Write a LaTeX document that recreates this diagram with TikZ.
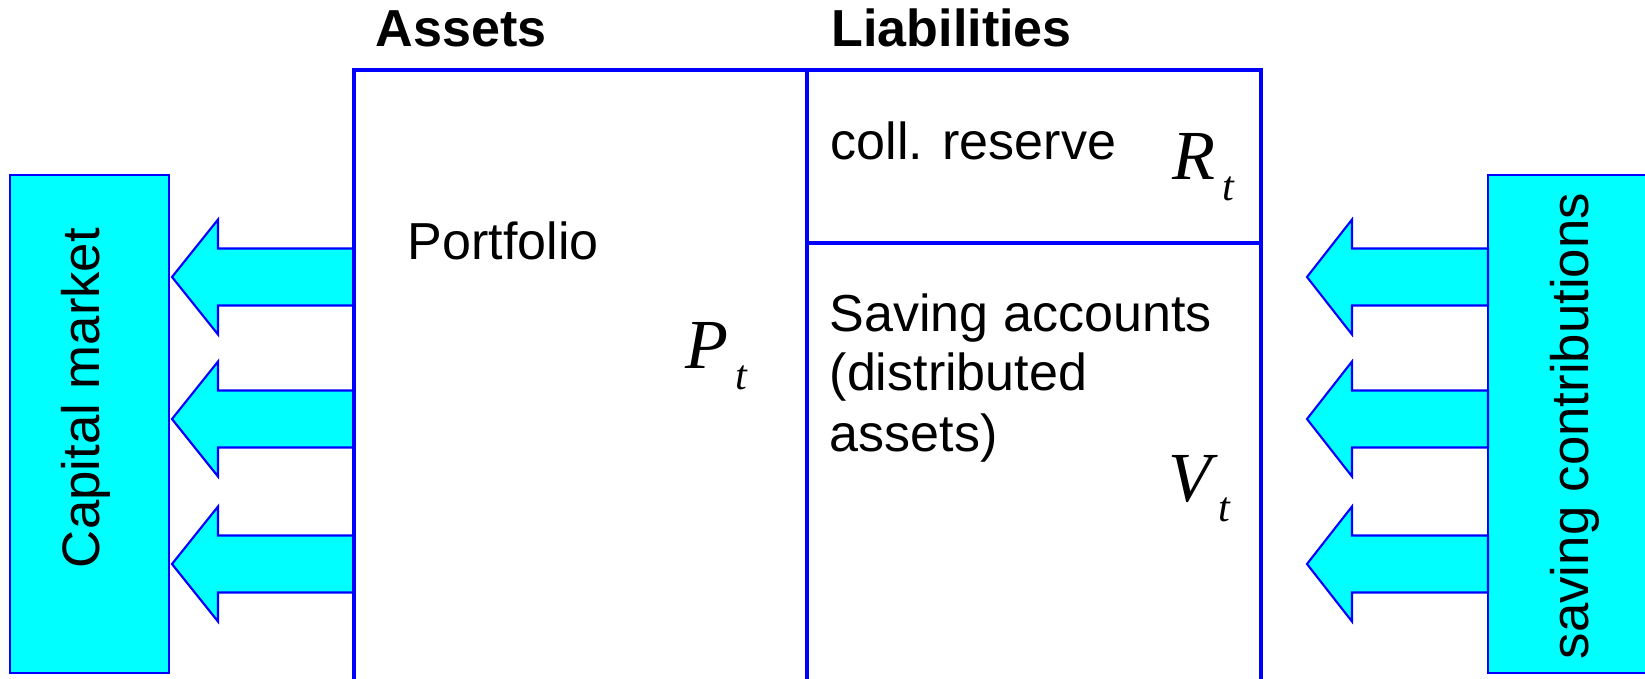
\documentclass[tikz,border=0pt]{standalone}
\usepackage{fontspec}
\setmainfont{Liberation Sans}
\newfontfamily\qfont{Liberation Serif}
\definecolor{aqua}{RGB}{0,255,255}
\definecolor{pureblue}{RGB}{0,0,255}
\newcommand{\quant}[1]{{\qfont\itshape\fontsize{20}{20}\selectfont #1\kern2pt\raisebox{-5.7pt}{\fontsize{12}{12}\selectfont t}}}
\tikzset{
  sidebox/.style={draw=pureblue, fill=aqua, line width=0.6pt, minimum width=1.59cm, minimum height=4.98cm, inner sep=0pt},
  flowarrow/.style={draw=pureblue, fill=aqua, line width=0.6pt, line join=miter},
  sheetline/.style={draw=pureblue, line width=1.15pt},
  lbl/.style={anchor=base west, inner sep=0pt, font=\fontsize{14.8}{17}\selectfont},
  vlbl/.style={anchor=base, rotate=90, inner sep=0pt, font=\fontsize{15}{17}\selectfont},
  head/.style={lbl, font=\fontsize{14.8}{17}\selectfont\bfseries}
}
\begin{document}
\begin{tikzpicture}[x=0.01cm, y=-0.01cm]
  \useasboundingbox (0,0) rectangle (1645,679);
  % side boxes
  \node[sidebox] (capm) at (89.5,424) {};
  \node[sidebox] (savc) at (1567.5,424) {};
  \node[vlbl] (capmtext) at (99,398) {Capital market};
  \node[vlbl] (savctext) at (1588,426) {saving contributions};
  % flows
  \foreach \yc in {277,419,564} {
    \draw[flowarrow] (354,\yc-28.5) -- (218,\yc-28.5) -- (218,\yc-57.5) -- (172,\yc)
      -- (218,\yc+57.5) -- (218,\yc+28.5) -- (354,\yc+28.5) -- cycle;
    \draw[flowarrow] (1488,\yc-28.5) -- (1352,\yc-28.5) -- (1352,\yc-57.5) -- (1307,\yc)
      -- (1352,\yc+57.5) -- (1352,\yc+28.5) -- (1488,\yc+28.5) -- cycle;
  }
  % balance sheet
  \draw[sheetline] (354,700) -- (354,70) -- (1261,70) -- (1261,700);
  \draw[sheetline] (807,70) -- (807,700);
  \draw[sheetline] (807,243) -- (1261,243);
  \node[head] (assets) at (375,47) {Assets};
  \node[head] (liab) at (831,47) {Liabilities};
  \node[lbl] (portf) at (407,259) {Portfolio};
  \node[lbl] (resv) at (830,160) {coll. reserve};
  \node[lbl] (sav1) at (829,331) {Saving accounts};
  \node[lbl] (sav2) at (829,390) {(distributed};
  \node[lbl] (sav3) at (829,451) {assets)};
  \node[anchor=base west, inner sep=0pt] (pt) at (685,369) {\quant{P}};
  \node[anchor=base west, inner sep=0pt] (rt) at (1172,180) {\quant{R}};
  \node[anchor=base west, inner sep=0pt] (vt) at (1168,501) {\quant{V}};
\end{tikzpicture}
\end{document}
